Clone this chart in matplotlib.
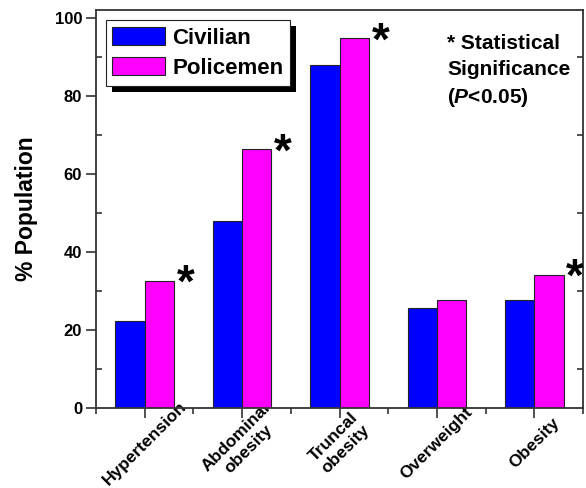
import matplotlib
matplotlib.use("Agg")
import matplotlib.pyplot as plt
from matplotlib.patches import Rectangle
from matplotlib.ticker import MultipleLocator, FixedLocator
import numpy as np

plt.rcParams['font.family'] = ['Liberation Sans', 'DejaVu Sans']
plt.rcParams['font.weight'] = 'bold'
plt.rcParams['mathtext.fontset'] = 'custom'
plt.rcParams['mathtext.it'] = 'Liberation Sans:italic:bold'
plt.rcParams['mathtext.rm'] = 'Liberation Sans:bold'

categories = ["Hypertension", "Abdominal\nobesity", "Truncal\nobesity", "Overweight", "Obesity"]
civilian = [22.3, 48.0, 88.0, 25.6, 27.6]
policemen = [32.6, 66.3, 94.7, 27.6, 34.2]
significant = [True, True, True, False, True]
yticks = [0, 20, 40, 60, 80, 100]

W, H = 586, 488
fig = plt.figure(figsize=(W / 100, H / 100), dpi=100)
ax = fig.add_axes([96 / W, 1 - 408 / H, 487 / W, 398 / H])

x = np.arange(len(categories))
bw = 0.3
ax.bar(x - bw / 2, civilian, bw, color='#0000FF', edgecolor='#222222', linewidth=0.8, label='Civilian', zorder=2)
ax.bar(x + bw / 2, policemen, bw, color='#FF00FF', edgecolor='#222222', linewidth=0.8, label='Policemen', zorder=2)

for xi, v, s in zip(x, policemen, significant):
    if s:
        ax.annotate('*', xy=(xi + bw, v), xytext=(2, -3), textcoords='offset points',
                    ha='left', va='center', fontsize=33, fontweight='bold', color='black')

ax.set_xlim(-0.5, len(categories) - 0.5)
ax.set_ylim(0, 102)
ax.set_xticks(x)
ax.set_xticklabels(categories, rotation=45, rotation_mode='anchor', ha='center', va='center',
                   multialignment='center', fontsize=12.5, fontweight='bold')
ax.xaxis.set_minor_locator(FixedLocator(np.arange(-0.5, len(categories), 1.0)))
ax.set_yticks(yticks)
ax.set_yticklabels([str(t) for t in yticks], fontsize=12, fontweight='bold')
ax.yaxis.set_minor_locator(MultipleLocator(10))
ax.tick_params(axis='both', which='major', direction='out', length=7, width=1.2, color='#333333', pad=3)
ax.tick_params(axis='x', which='major', pad=18.5)
ax.tick_params(axis='both', which='minor', direction='out', length=4.5, width=1.2, color='#333333')
ax.tick_params(axis='y', which='minor', right=True, direction='in')

for sp in ax.spines.values():
    sp.set_linewidth(1.3)
    sp.set_color('#333333')

ax.set_ylabel('% Population', fontsize=16.5, fontweight='bold', labelpad=12)

leg = ax.legend(loc='upper left', bbox_to_anchor=(0.02, 0.975), borderaxespad=0,
                fancybox=False, frameon=True, edgecolor='#222222', framealpha=1,
                prop={'size': 16, 'weight': 'bold'}, handlelength=2.35, handleheight=0.9,
                handletextpad=0.35, borderpad=0.3, labelspacing=0.38)
leg.get_frame().set_linewidth(0.8)
leg.set_zorder(5)

fig.canvas.draw()
bb = leg.get_frame().get_window_extent(fig.canvas.get_renderer())
shadow = Rectangle((bb.x0 + 6, bb.y0 - 6), bb.width, bb.height, transform=None,
                   facecolor='black', edgecolor='none', zorder=4)
ax.add_artist(shadow)

fig.text(447 / W, 1 - 34 / H, "* Statistical\nSignificance\n($\\it{P}$<0.05)", ha='left', va='top',
         fontsize=15, fontweight='bold', linespacing=1.45)

fig.savefig('out.png', dpi=100)
